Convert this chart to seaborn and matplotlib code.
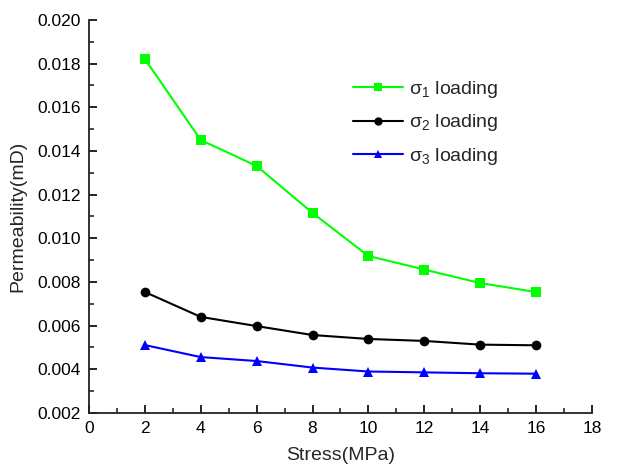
import matplotlib
matplotlib.use("Agg")
import matplotlib.pyplot as plt
import seaborn as sns
import pandas as pd
from matplotlib.ticker import MultipleLocator, FormatStrFormatter

stress = [2, 4, 6, 8, 10, 12, 14, 16]
sigma1 = [0.01821, 0.01450, 0.01331, 0.01116, 0.00919, 0.00857, 0.00795, 0.00754]
sigma2 = [0.00754, 0.00640, 0.00598, 0.00557, 0.00539, 0.00530, 0.00513, 0.00510]
sigma3 = [0.00511, 0.00456, 0.00438, 0.00408, 0.00390, 0.00386, 0.00382, 0.00380]
labels = ["σ$_1$ loading", "σ$_2$ loading", "σ$_3$ loading"]

sns.set_theme(style="ticks")
plt.rcParams['font.family'] = ['Liberation Sans', 'DejaVu Sans']
plt.rcParams['mathtext.fontset'] = 'custom'
plt.rcParams['mathtext.rm'] = 'Liberation Sans'
plt.rcParams['mathtext.it'] = 'Liberation Sans:italic'
plt.rcParams['mathtext.default'] = 'regular'

df = pd.DataFrame({
    "Stress": stress * 3,
    "Perm": sigma1 + sigma2 + sigma3,
    "Series": [labels[0]] * 8 + [labels[1]] * 8 + [labels[2]] * 8,
})

fig = plt.figure(figsize=(6.29, 4.74), dpi=100)
ax = fig.add_axes([0.1415, 0.1287, 0.7995, 0.8293])

palette = {labels[0]: "#00FF00", labels[1]: "#000000", labels[2]: "#0000FF"}
markers = {labels[0]: "s", labels[1]: "o", labels[2]: "^"}
sns.lineplot(data=df, x="Stress", y="Perm", hue="Series", style="Series",
             palette=palette, markers=markers, dashes=False, markersize=7,
             linewidth=1.5, markeredgewidth=0, ax=ax)

ax.set_xlim(0, 18)
ax.set_ylim(0.002, 0.020)
ax.xaxis.set_major_locator(MultipleLocator(2))
ax.xaxis.set_minor_locator(MultipleLocator(1))
ax.yaxis.set_major_locator(MultipleLocator(0.002))
ax.yaxis.set_minor_locator(MultipleLocator(0.001))
ax.yaxis.set_major_formatter(FormatStrFormatter('%.3f'))
ax.tick_params(which='major', direction='in', length=6, width=1.2, labelsize=12.5, colors='#000000', pad=6)
ax.tick_params(which='minor', direction='in', length=3.5, width=1.2)
for s in ['top', 'right']:
    ax.spines[s].set_visible(False)
for s in ['left', 'bottom']:
    ax.spines[s].set_linewidth(1.3)
    ax.spines[s].set_color('#222222')

ax.set_xlabel("Stress(MPa)", fontsize=14, labelpad=8)
ax.set_ylabel("Permeability(mD)", fontsize=14, labelpad=8)

leg = ax.legend(loc='upper left', bbox_to_anchor=(0.49, 0.895), frameon=False,
                fontsize=14, handlelength=2.6, labelspacing=0.65, handletextpad=0.3)
for h in leg.legend_handles:
    h.set_markersize(6)

fig.savefig("out.png", dpi=100)
